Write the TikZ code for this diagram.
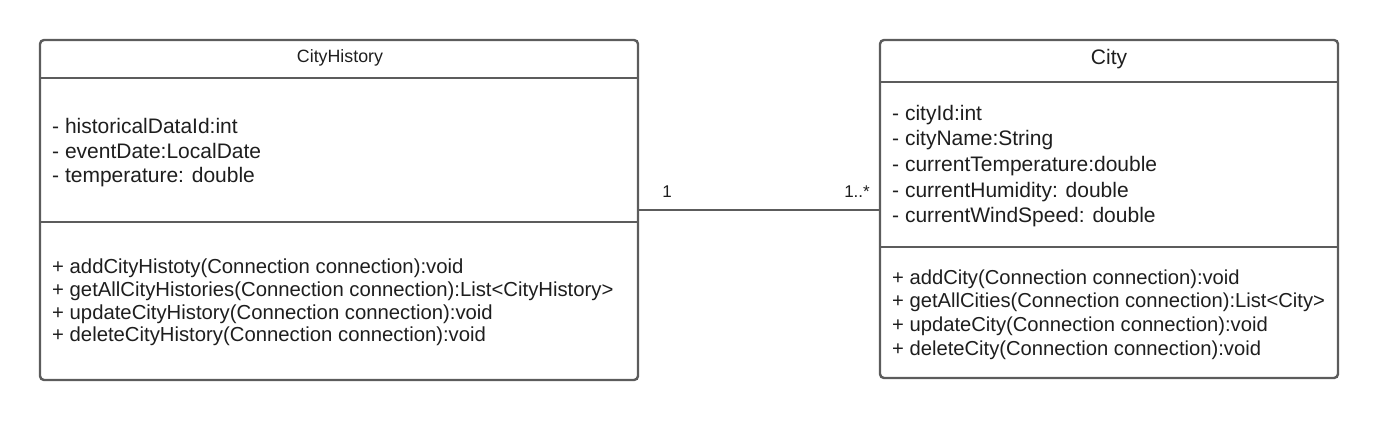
\documentclass[tikz,border=0pt]{standalone}
\usepackage{fontspec}
\setmainfont{Liberation Sans}
\definecolor{umlline}{HTML}{5C5C5C}
\definecolor{umltext}{HTML}{1E1E1E}
\begin{document}
\begin{tikzpicture}[x=1pt,y=-1pt,
  classbox/.style={draw=umlline, line width=2.4pt, rounded corners=4pt, inner sep=0pt},
  divider/.style={draw=umlline, line width=2.4pt},
  member/.style={anchor=west, align=left, inner sep=0pt, text=umltext},
  title/.style={inner sep=0pt, text=umltext},
  mult/.style={inner sep=0pt, text=umltext, font=\fontsize{17}{20}\selectfont},
  assoc/.style={draw=umlline, line width=1.6pt}]
\useasboundingbox (0,0) rectangle (1380,420);

% CityHistory class
\node[classbox, minimum width=598pt, minimum height=340pt] (hist) at (339,210) {};
\node[title, font=\fontsize{17.8}{20}\selectfont] (histname) at (340,58) {CityHistory};
\draw[divider] (40,78) coordinate (hd1l) -- (638,78) coordinate (hd1r);
\node[member, font=\fontsize{21}{24.5}\selectfont] (histattr) at (52,153)
  {- historicalDataId:int\\- eventDate:LocalDate\\- temperature: double};
\draw[divider] (40,222) coordinate (hd2l) -- (638,222) coordinate (hd2r);
\node[member, font=\fontsize{20.3}{22.7}\selectfont] (histops) at (52,302.5)
  {+ addCityHistoty(Connection connection):void\\+ getAllCityHistories(Connection connection):List<CityHistory>\\+ updateCityHistory(Connection connection):void\\+ deleteCityHistory(Connection connection):void};

% City class
\node[classbox, minimum width=458pt, minimum height=338pt] (city) at (1109,209) {};
\node[title, font=\fontsize{21}{24}\selectfont] (cityname) at (1109,59) {City};
\draw[divider] (880,82) coordinate (cd1l) -- (1338,82) coordinate (cd1r);
\node[member, font=\fontsize{21}{25.7}\selectfont] (cityattr) at (892,166)
  {- cityId:int\\- cityName:String\\- currentTemperature:double\\- currentHumidity: double\\- currentWindSpeed: double};
\draw[divider] (880,247) coordinate (cd2l) -- (1338,247) coordinate (cd2r);
\node[member, font=\fontsize{20.2}{23.7}\selectfont] (cityops) at (892,314.5)
  {+ addCity(Connection connection):void\\+ getAllCities(Connection connection):List<City>\\+ updateCity(Connection connection):void\\+ deleteCity(Connection connection):void};

% association
\draw[assoc] (hist.east) -- (hist.east -| city.west);
\node[mult] (m1) at (667,192) {1};
\node[mult] (m2) at (857,192) {1..*};
\end{tikzpicture}
\end{document}
